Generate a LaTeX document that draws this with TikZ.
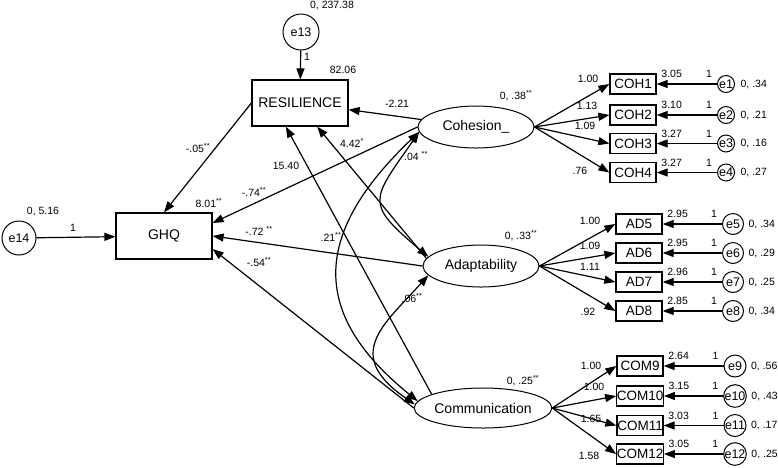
\documentclass[tikz,border=0pt]{standalone}
\usepackage{fontspec}
\setmainfont{Liberation Sans}
\usetikzlibrary{positioning,shapes.geometric,arrows.meta}
\tikzset{node distance=29.3pt, auto}
\tikzset{
  obs/.style={draw, rectangle, line width=1.3pt, inner sep=0pt,
    minimum width=46pt, minimum height=20pt, font=\fontsize{13.5}{15}\selectfont},
  big/.style={draw, rectangle, line width=1.2pt, minimum width=96pt,
    minimum height=46pt, font=\fontsize{14}{16}\selectfont},
  lat/.style={draw, ellipse, line width=1pt, inner sep=0pt, minimum width=116pt,
    minimum height=42pt, font=\fontsize{14}{16}\selectfont},
  err/.style={draw, circle, line width=1pt, inner sep=0pt,
    font=\fontsize{12.5}{14}\selectfont},
  lbl/.style={inner sep=0pt, font=\fontsize{10.5}{12}\selectfont},
}
\newcommand{\stars}{\textsuperscript{**}}

\begin{document}
\begin{tikzpicture}[x=1pt, y=-1pt, line width=1.2pt,
    >={Triangle[length=11pt,width=8pt]}]
  \useasboundingbox (0,0) rectangle (778,467);
  % structural model
  \node[err, minimum size=36pt] (e13) at (301,32) {e13};
  \node[big] (res) at (300,103) {RESILIENCE};
  \node[big] (ghq) at (164,236) {GHQ};
  \node[err, minimum size=34pt] (e14) at (19,238) {e14};
  \node[lat] (cohesion) at (476,127) {Cohesion\_};
  \node[lat] (adapt) at (481,266) {Adaptability};
  \node[lat, minimum height=40pt] (commun) at (483,408) {Communication};
  \draw[->] (e13) -- (res);
  \draw[->] (e14) -- (ghq);
  \draw[->] (res.west) -- (ghq.north);
  \draw[->] (cohesion) -- (res);
  \draw[->] (cohesion.west) -- (ghq.15);
  \draw[->] (adapt.west) -- (ghq.east);
  \draw[->] (commun.west) -- (ghq.-15);
  \draw[->] (adapt.172) -- (res.-54);
  \draw[->] (commun.165) -- (res.-121);
  \draw[<->] (cohesion.185) .. controls +(-48,69) and +(-64,-54) .. (adapt.170);
  \draw[<->] (cohesion.185) .. controls +(-105,100) and +(-110,-89) .. (commun.174);
  \draw[<->] (adapt.190) .. controls +(-45,50) and +(-72,-50) .. (commun.177);
  % estimates
  \node[lbl] (v13) at (332,6) {0, 237.38};
  \node[lbl] (p13) at (307,57) {1};
  \node[lbl] (i13) at (343,70) {82.06};
  \node[lbl] (v14) at (43,211) {0, 5.16};
  \node[lbl] (p14) at (73,228) {1};
  \node[lbl] (i14) at (209,203) {8.01\stars};
  \node[lbl] (bres) at (198,148) {-.05\stars};
  \node[lbl] (bcoh) at (397,104) {-2.21};
  \node[lbl] (gcoh) at (254,192) {-.74\stars};
  \node[lbl] (gada) at (259,231) {-.72 \stars};
  \node[lbl] (gcom) at (259,262) {-.54\stars};
  \node[lbl] (bcom) at (286,166) {15.40};
  \node[lbl] (bada) at (352,143) {4.42\textsuperscript{*}};
  \node[lbl] (c12) at (416,156) {.04 \stars};
  \node[lbl] (c13) at (331,237) {.21\stars};
  \node[lbl] (c23) at (412,298) {.06\stars};
  \node[lbl] (vcoh) at (516,96) {0, .38\stars};
  \node[lbl] (vada) at (521,236) {0, .33\stars};
  \node[lbl] (vcom) at (523,381) {0, .25\stars};
  % measurement model
  \foreach \n/\y/\ld/\lx/\ly/\ic/\var in {1/84/1.00/588/79/3.05/.34,
      2/115/1.13/587/106/3.10/.21, 3/143.5/1.09/585/126/3.27/.16,
      4/172.5/.76/580/171/3.27/.27}{
    \node[obs] (coh\n) at (633,\y) {COH\n};
    \node[err, minimum size=17pt] (e\n) [right of=coh\n, node distance=93pt] {e\n};
    \draw[->] (cohesion.east) -- (coh\n.west);
    \draw[->] (e\n) -- (coh\n);
    \node[lbl] (ld\n) at (\lx,\ly) {\ld};
    \node[lbl] (ic\n) at ([xshift=15pt,yshift=10pt]coh\n.east) {\ic};
    \node[lbl] (one\n) at ([xshift=-8pt,yshift=10pt]e\n.west) {1};
    \node[lbl, anchor=west] (var\n) at ([xshift=5pt]e\n.east) {0, \var};
  }
  \foreach \n/\y/\ld/\lx/\ly/\ic/\var in {5/224/1.00/590/221/2.95/.34,
      6/253/1.09/590/246/2.95/.29, 7/282/1.11/590/267/2.96/.25,
      8/311/.92/588/312/2.85/.34}{
    \node[obs] (ad\n) at (639,\y) {AD\n};
    \node[err, minimum size=21pt] (e\n) [right of=ad\n, node distance=94pt] {e\n};
    \draw[->] (adapt.east) -- (ad\n.west);
    \draw[->] (e\n) -- (ad\n);
    \node[lbl] (ld\n) at (\lx,\ly) {\ld};
    \node[lbl] (ic\n) at ([xshift=15pt,yshift=10pt]ad\n.east) {\ic};
    \node[lbl] (one\n) at ([xshift=-8pt,yshift=10pt]e\n.west) {1};
    \node[lbl, anchor=west] (var\n) at ([xshift=4pt]e\n.east) {0, \var};
  }
  \foreach \n/\y/\ld/\lx/\ly/\ic/\var in {9/366/1.00/591/366/2.64/.56,
      10/396/1.00/594/387/3.15/.43, 11/425.5/1.65/591/419/3.03/.17,
      12/454/1.58/589/456/3.05/.25}{
    \node[obs] (com\n) at (640,\y) {COM\n};
    \node[err, minimum size=22pt] (e\n) [right of=com\n, node distance=95pt] {e\n};
    \draw[->] (commun.east) -- (com\n.west);
    \draw[->] (e\n) -- (com\n);
    \node[lbl] (ld\n) at (\lx,\ly) {\ld};
    \node[lbl] (ic\n) at ([xshift=15pt,yshift=10pt]com\n.east) {\ic};
    \node[lbl] (one\n) at ([xshift=-8pt,yshift=10pt]e\n.west) {1};
    \node[lbl, anchor=west] (var\n) at ([xshift=4pt]e\n.east) {0, \var};
  }
\end{tikzpicture}
\end{document}
